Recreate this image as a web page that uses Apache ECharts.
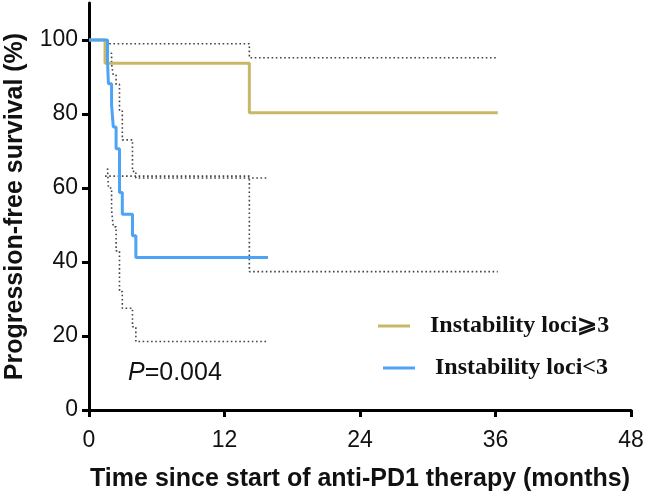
<!DOCTYPE html>
<html><head><meta charset="utf-8">
<script src="https://cdn.jsdelivr.net/npm/echarts@6/dist/echarts.min.js"></script>
<style>html,body{margin:0;padding:0;background:#fff}#c{width:645px;height:494px}</style>
</head><body><div id="c"></div>
<script>
const xTicks=[0,12,24,36,48];
const yTicks=[0,20,40,60,80,100];
const goldTimes=[0,1.42,14.2,36.2];
const goldSurv=[100,93.75,80.36,80.36];
const goldCITimes=[1.42,14.2,36.2];
const goldUpper=[99,95.2,95.2];
const goldLower=[63.2,37.4,37.4];
const blueTimes=[0,1.64,1.72,2.0,2.15,2.4,2.7,2.95,3.85,4.15,15.85];
const blueSurv=[100,94.1,88.2,82.4,76.5,70.6,58.8,52.9,47.1,41.2,41.2];
const blueCITimes=[1.64,1.72,2.0,2.15,2.4,2.7,2.95,3.85,4.15,15.85];
const blueUpper=[99.2,96.4,93.5,90.5,88,81,73,64.5,62.7,62.7];
const blueLower=[65.3,60,54,49.5,43,32,27.5,22.5,18.5,18.5];
const names=['Instability loci\u2A7E3','Instability loci<3'];
const pText='0.004';

const GOLD='#C8B865', BLUE='#4DA3F5';
const zip=(a,b)=>a.map((v,i)=>[v,b[i]]);
const dotted=(t,v)=>({type:'line',step:'end',data:zip(t,v),showSymbol:false,symbol:'none',silent:true,
  lineStyle:{color:'#444',width:1.6,type:[1.6,2.6]},z:1});
const chart=echarts.init(document.getElementById('c'),null,{renderer:'canvas'});
const sans='"Liberation Sans", Arial, Helvetica, sans-serif';
const serif='"Liberation Serif", "Times New Roman", serif';
chart.setOption({
  animation:false,
  backgroundColor:'#fff',
  grid:{left:89,right:14,top:3,bottom:84,containLabel:false,outerBoundsMode:'none'},
  title:{text:'{i|P}{n|='+pText+'}',left:123,top:356,padding:5,
    textStyle:{fontWeight:'normal',rich:{i:{fontFamily:sans,fontStyle:'italic',fontWeight:'normal',fontSize:25,color:'#111'},n:{fontFamily:sans,fontWeight:'normal',fontSize:25,color:'#111'}}}},
  legend:[
    {data:[{name:names[0],icon:'rect'}],left:378,top:314,padding:0,itemWidth:32,itemHeight:3,
      textStyle:{fontFamily:serif,fontWeight:'bold',fontSize:24,color:'#111',padding:[0,0,0,15]}},
    {data:[{name:names[1],icon:'rect'}],left:383,top:356,padding:0,itemWidth:32,itemHeight:3,
      textStyle:{fontFamily:serif,fontWeight:'bold',fontSize:24,color:'#111',padding:[0,0,0,15]}}
  ],
  xAxis:{type:'value',min:0,max:48,interval:12,
    name:'Time since start of anti-PD1 therapy (months)',nameLocation:'middle',nameGap:57,
    nameTextStyle:{fontFamily:sans,fontWeight:'bold',fontSize:25,color:'#111'},
    axisLine:{show:true,onZero:false,lineStyle:{color:'#000',width:3}},
    axisTick:{show:true,length:7,lineStyle:{color:'#000',width:3},customValues:xTicks},
    axisLabel:{fontFamily:sans,fontSize:23,color:'#111',margin:19,customValues:xTicks},
    splitLine:{show:false}},
  yAxis:{type:'value',min:0,max:110,
    name:'Progression-free survival (%)',nameLocation:'middle',nameGap:61,
    nameTextStyle:{fontFamily:sans,fontWeight:'bold',fontSize:25,color:'#111'},
    axisLine:{show:true,onZero:false,lineStyle:{color:'#000',width:3}},
    axisTick:{show:true,length:7,lineStyle:{color:'#000',width:3},customValues:yTicks},
    axisLabel:{fontFamily:sans,fontSize:23,color:'#111',margin:11,customValues:yTicks},
    splitLine:{show:false}},
  series:[
    dotted(goldCITimes,goldUpper),
    dotted(goldCITimes,goldLower),
    dotted(blueCITimes,blueUpper),
    dotted(blueCITimes,blueLower),
    {name:names[0],type:'line',step:'end',data:zip(goldTimes,goldSurv),showSymbol:false,symbol:'none',
      color:GOLD,lineStyle:{color:GOLD,width:3},z:3},
    {name:names[1],type:'line',step:'end',data:zip(blueTimes,blueSurv),showSymbol:false,symbol:'none',
      color:BLUE,lineStyle:{color:BLUE,width:3},z:4}
  ]
});
</script></body></html>
